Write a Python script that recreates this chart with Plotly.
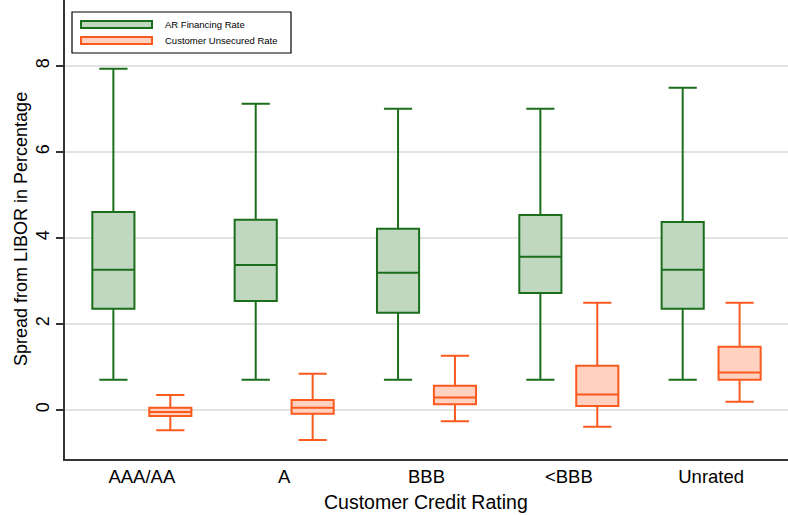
import plotly.graph_objects as go

categories = ["AAA/AA", "A", "BBB", "<BBB", "Unrated"]

ar_upper = [7.93, 7.12, 7.00, 7.00, 7.49]
ar_q3 = [4.60, 4.42, 4.21, 4.53, 4.37]
ar_median = [3.26, 3.37, 3.19, 3.56, 3.26]
ar_q1 = [2.35, 2.53, 2.26, 2.72, 2.35]
ar_lower = [0.70, 0.70, 0.70, 0.70, 0.70]

cu_upper = [0.35, 0.84, 1.26, 2.49, 2.49]
cu_q3 = [0.05, 0.23, 0.56, 1.03, 1.47]
cu_median = [-0.05, 0.05, 0.29, 0.36, 0.87]
cu_q1 = [-0.14, -0.09, 0.13, 0.09, 0.70]
cu_lower = [-0.47, -0.70, -0.26, -0.39, 0.19]

y_ticks = [0, 2, 4, 6, 8]

GREEN = "#1b6e1b"
GREEN_FILL = "#c0d8c0"
ORANGE = "#fb5a1e"
ORANGE_FILL = "#ffd1c0"
FONT = "Liberation Sans, Arial, sans-serif"

fig = go.Figure()
fig.add_trace(go.Box(
    name="AR Financing Rate", x=categories,
    q1=ar_q1, median=ar_median, q3=ar_q3,
    lowerfence=ar_lower, upperfence=ar_upper,
    line=dict(color=GREEN, width=2), fillcolor=GREEN_FILL,
    whiskerwidth=0.67, boxpoints=False, offsetgroup="ar",
))
fig.add_trace(go.Box(
    name="Customer Unsecured Rate", x=categories,
    q1=cu_q1, median=cu_median, q3=cu_q3,
    lowerfence=cu_lower, upperfence=cu_upper,
    line=dict(color=ORANGE, width=2), fillcolor=ORANGE_FILL,
    whiskerwidth=0.67, boxpoints=False, offsetgroup="cu",
))

W, H = 788, 515
ml, mr, mt, mb = 65, 0, 0, 56
pw, ph = W - ml - mr, H - mt - mb

def px(x):
    return (x - ml) / pw

def py(y):
    return 1 - (y - mt) / ph

shapes = [
    dict(type="rect", xref="paper", yref="paper",
         x0=px(72), x1=px(291), y0=py(53), y1=py(12),
         line=dict(color="black", width=1.2), fillcolor="white"),
    dict(type="rect", xref="paper", yref="paper",
         x0=px(81), x1=px(152), y0=py(28), y1=py(21),
         line=dict(color=GREEN, width=2), fillcolor=GREEN_FILL),
    dict(type="rect", xref="paper", yref="paper",
         x0=px(81), x1=px(152), y0=py(44), y1=py(37),
         line=dict(color=ORANGE, width=2), fillcolor=ORANGE_FILL),
]
annotations = [
    dict(text="AR Financing Rate", xref="paper", yref="paper",
         x=px(163), y=py(24.5), xanchor="left", yanchor="middle",
         showarrow=False, font=dict(size=9.5, color="black", family=FONT)),
    dict(text="Customer Unsecured Rate", xref="paper", yref="paper",
         x=px(163), y=py(40.5), xanchor="left", yanchor="middle",
         showarrow=False, font=dict(size=9.5, color="black", family=FONT)),
    dict(text="Customer Credit Rating", xref="paper", yref="paper",
         x=px(426), y=py(502), xanchor="center", yanchor="middle",
         showarrow=False, font=dict(size=19.5, color="black", family=FONT)),
    dict(text="Spread from LIBOR in Percentage", xref="paper", yref="paper",
         x=px(21), y=py(229), xanchor="center", yanchor="middle", textangle=-90,
         showarrow=False, font=dict(size=18, color="black", family=FONT)),
]

fig.update_layout(
    width=W, height=H,
    margin=dict(l=ml, r=mr, t=mt, b=mb),
    paper_bgcolor="white", plot_bgcolor="white",
    boxmode="group", boxgap=0.2, boxgroupgap=0.26,
    showlegend=False,
    font=dict(family=FONT, color="black"),
    shapes=shapes, annotations=annotations,
    xaxis=dict(
        type="category", range=[-0.54, 4.54], automargin=False,
        showline=True, linecolor="#333333", linewidth=1.5,
        ticks="", showgrid=False, zeroline=False,
        tickfont=dict(size=18.5, family=FONT, color="black"),
    ),
    yaxis=dict(
        range=[-1.14, 9.53], automargin=False,
        tickvals=y_ticks, ticktext=[str(v) for v in y_ticks],
        tickangle=-90,
        showline=True, linecolor="#333333", linewidth=1.5,
        ticks="outside", ticklen=7, tickcolor="#333333", tickwidth=1.5,
        showgrid=True, gridcolor="#e2e2e2", gridwidth=1.5,
        zeroline=False,
        tickfont=dict(size=18, family=FONT, color="black"),
    ),
)

fig.write_html("out.html", config={"displayModeBar": False},
               post_script="document.body.style.margin='0';")
